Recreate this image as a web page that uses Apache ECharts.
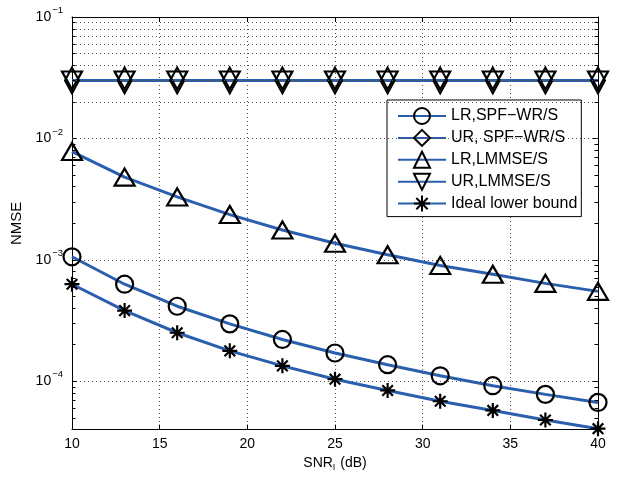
<!DOCTYPE html>
<html>
<head>
<meta charset="utf-8">
<script src="https://cdn.jsdelivr.net/npm/echarts@6/dist/echarts.min.js"></script>
<style>
html,body{margin:0;padding:0;background:#fff;}
#c{width:627px;height:477px;}
</style>
</head>
<body>
<div id="c"></div>
<script>
// ---- data ----
const snr = [10, 13, 16, 19, 22, 25, 28, 31, 34, 37, 40];
const lrSpf = [1.06e-3, 6.3e-4, 4.15e-4, 2.97e-4, 2.21e-4, 1.71e-4, 1.37e-4, 1.11e-4, 9.2e-5, 7.8e-5, 6.7e-5];
const urSpf = [3.0e-2, 3.0e-2, 3.0e-2, 3.0e-2, 3.0e-2, 3.0e-2, 3.0e-2, 3.0e-2, 3.0e-2, 3.0e-2, 3.0e-2];
const lrLmmse = [7.8e-3, 4.8e-3, 3.3e-3, 2.36e-3, 1.76e-3, 1.37e-3, 1.10e-3, 9.0e-4, 7.6e-4, 6.4e-4, 5.5e-4];
const urLmmse = [3.0e-2, 3.0e-2, 3.0e-2, 3.0e-2, 3.0e-2, 3.0e-2, 3.0e-2, 3.0e-2, 3.0e-2, 3.0e-2, 3.0e-2];
const ideal = [6.3e-4, 3.82e-4, 2.51e-4, 1.78e-4, 1.34e-4, 1.04e-4, 8.4e-5, 6.85e-5, 5.75e-5, 4.8e-5, 4.07e-5];
const seriesNames = ['LR,SPF\u2212WR/S', 'UR, SPF\u2212WR/S', 'LR,LMMSE/S', 'UR,LMMSE/S', 'Ideal lower bound'];
const xMin = 10, xMax = 40, xStep = 5;
const yMin = 4e-5, yMax = 1e-1;

// ---- minor log grid values (2..9 x 10^n) ----
const minorVals = [];
for (let e = -5; e <= -2; e++) {
  for (let m = 2; m <= 9; m++) {
    const v = m * Math.pow(10, e);
    if (v > yMin && v < yMax) minorVals.push(v);
  }
}

const BLUE = '#2a5fae';
const FONT = 'Liberation Sans, Arial, Helvetica, sans-serif';
const pair = (xs, ys) => xs.map((x, i) => [x, ys[i]]);
const tickLenX = 5 / 17.5; // tick length in x data units (~5px)

function mkSeries(name, data, symbol, size, extra) {
  return Object.assign({
    name: name,
    type: 'line',
    data: pair(snr, data),
    symbol: symbol,
    symbolSize: size,
    showAllSymbol: true,
    clip: false,
    lineStyle: { color: BLUE, width: 3 },
    itemStyle: { color: 'rgba(255,255,255,0)', borderColor: '#000', borderWidth: 2.2 },
    emphasis: { disabled: true },
    animation: false,
    z: 3
  }, extra || {});
}

const starPath = 'path://M5 0L5 10M0 5L10 5M1.46 1.46L8.54 8.54M8.54 1.46L1.46 8.54';
const downTri = 'path://M0 0L20 0L10 18Z';

const minorTickData = [];
minorVals.forEach(v => {
  minorTickData.push([{ coord: [xMin, v] }, { coord: [xMin + tickLenX * 0.7, v] }]);
  minorTickData.push([{ coord: [xMax - tickLenX * 0.7, v] }, { coord: [xMax, v] }]);
});

const option = {
  backgroundColor: '#fff',
  animation: false,
  textStyle: { fontFamily: FONT },
  grid: { left: 72, right: 29, top: 17, bottom: 45, containLabel: false },
  legend: {
    orient: 'vertical',
    left: 387, top: 100,
    padding: [7, 4, 4, 10],
    itemWidth: 48, itemHeight: 20, itemGap: 3.9,
    backgroundColor: '#fff', borderColor: '#000', borderWidth: 1,
    selectedMode: false,
    textStyle: { fontSize: 16, color: '#000', fontFamily: FONT },
    data: seriesNames
  },
  xAxis: [{
    type: 'value', min: xMin, max: xMax, interval: xStep,
    name: '{a|SNR}{i|I}{a| (dB)}',
    nameLocation: 'middle', nameGap: 21,
    nameTextStyle: {
      rich: {
        a: { fontSize: 14, color: '#000', fontFamily: FONT },
        i: { fontSize: 9, color: '#000', fontFamily: FONT, padding: [8, 1, 0, 0] }
      }
    },
    axisLine: { show: true, lineStyle: { color: '#000', width: 1 } },
    axisTick: { show: true, inside: true, length: 5, lineStyle: { color: '#000' } },
    axisLabel: { color: '#000', fontSize: 14, margin: 8, fontFamily: FONT },
    splitLine: { show: true, lineStyle: { color: '#555', type: [1, 3], width: 1 } }
  }, {
    type: 'value', min: xMin, max: xMax, interval: xStep, position: 'top',
    axisLine: { show: true, lineStyle: { color: '#000', width: 1 } },
    axisTick: { show: true, inside: true, length: 5, lineStyle: { color: '#000' } },
    axisLabel: { show: false },
    splitLine: { show: false }
  }],
  yAxis: [{
    type: 'log', logBase: 10, min: yMin, max: yMax,
    name: 'NMSE', nameLocation: 'middle', nameGap: 46,
    nameTextStyle: { fontSize: 15, color: '#000', fontFamily: FONT },
    axisLine: { show: true, lineStyle: { color: '#000', width: 1 } },
    axisTick: { show: true, inside: true, length: 5, lineStyle: { color: '#000' } },
    axisLabel: {
      color: '#000', margin: 9,
      formatter: function (v) {
        const l = Math.log10(v);
        const e = Math.round(l);
        if (Math.abs(l - e) > 1e-6) return '';
        return '{b|10}{s|' + (e < 0 ? '\u2212' : '') + Math.abs(e) + '}';
      },
      rich: {
        b: { fontSize: 14, color: '#000', fontFamily: FONT },
        s: { fontSize: 9.5, color: '#000', fontFamily: FONT, padding: [0, 0, 13, 1] }
      }
    },
    splitLine: { show: true, lineStyle: { color: '#555', type: [1, 3], width: 1 } }
  }, {
    type: 'log', logBase: 10, min: yMin, max: yMax, position: 'right',
    axisLine: { show: true, lineStyle: { color: '#000', width: 1 } },
    axisTick: { show: true, inside: true, length: 5, lineStyle: { color: '#000' } },
    axisLabel: { show: false },
    splitLine: { show: false }
  }],
  series: [
    {
      name: 'grid-minor', type: 'line', data: [], silent: true, animation: false, z: 1,
      markLine: {
        silent: true, symbol: 'none', animation: false,
        label: { show: false },
        lineStyle: { color: '#555', type: [1, 3], width: 1 },
        emphasis: { disabled: true },
        data: minorVals.map(v => ({ yAxis: v }))
      }
    },
    {
      name: 'tick-minor', type: 'line', data: [], silent: true, animation: false, z: 2,
      markLine: {
        silent: true, symbol: 'none', animation: false,
        label: { show: false },
        lineStyle: { color: '#000', type: 'solid', width: 1 },
        emphasis: { disabled: true },
        data: minorTickData
      }
    },
    mkSeries(seriesNames[0], lrSpf, 'circle', 17),
    mkSeries(seriesNames[1], urSpf, 'diamond', [14, 26]),
    mkSeries(seriesNames[2], lrLmmse, 'triangle', [20, 17]),
    mkSeries(seriesNames[3], urLmmse, downTri, [20, 18]),
    mkSeries(seriesNames[4], ideal, starPath, 15, {
      itemStyle: { color: '#000', borderColor: '#000', borderWidth: 2.2 }
    })
  ]
};

const chart = echarts.init(document.getElementById('c'), null, { renderer: 'canvas' });
chart.setOption(option);
</script>
</body>
</html>
